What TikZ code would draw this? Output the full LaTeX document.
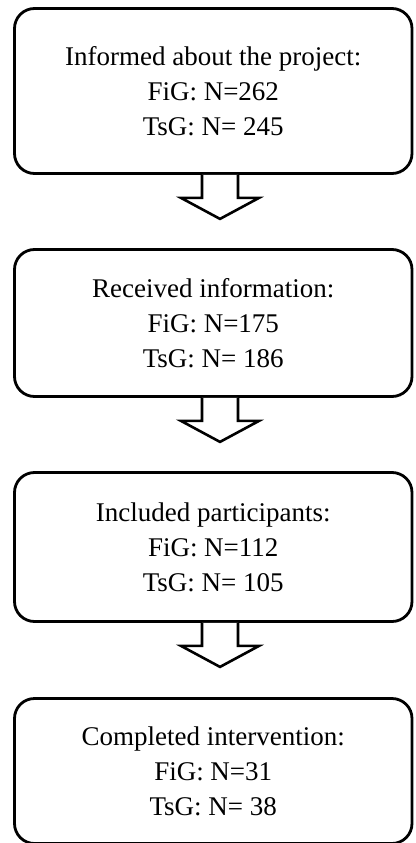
\documentclass[tikz,border=0pt]{standalone}
\usepackage{fontspec}
\setmainfont{Liberation Serif}
\usetikzlibrary{calc}
\tikzset{
  stagebox/.style={draw=black, line width=2.8pt, rounded corners=20pt,
    minimum width=397.5pt, align=center, inner sep=0pt,
    font=\fontsize{27}{35}\selectfont},
  blockarrow/.style={draw=black, line width=2.6pt, line join=miter, fill=white}
}
\begin{document}
\begin{tikzpicture}[x=1pt, y=-1pt]
  \useasboundingbox (0,0) rectangle (415,843);

  % stage boxes
  \node[stagebox, minimum height=165pt] (b1) at (213.25,91)
    {Informed about the project:\\FiG: N=262\\TsG: N= 245};
  \node[stagebox, minimum height=147pt] (b2) at (213.25,323)
    {Received information:\\FiG: N=175\\TsG: N= 186};
  \node[stagebox, minimum height=149pt] (b3) at (213.25,547)
    {Included participants:\\FiG: N=112\\TsG: N= 105};
  \node[stagebox, minimum height=145pt] (b4) at (213.25,771)
    {Completed intervention:\\FiG: N=31\\TsG: N= 38};

  % hollow block arrows between the stages
  \foreach \a in {b1,b2,b3}{
    \draw[blockarrow] ($(\a.south)+(-11.25,0)$) -- ++(0,23) -- ++(-21,0)
      -- ++(39,21) -- ++(39,-21) -- ++(-21,0) -- ++(0,-23);
  }
\end{tikzpicture}
\end{document}
